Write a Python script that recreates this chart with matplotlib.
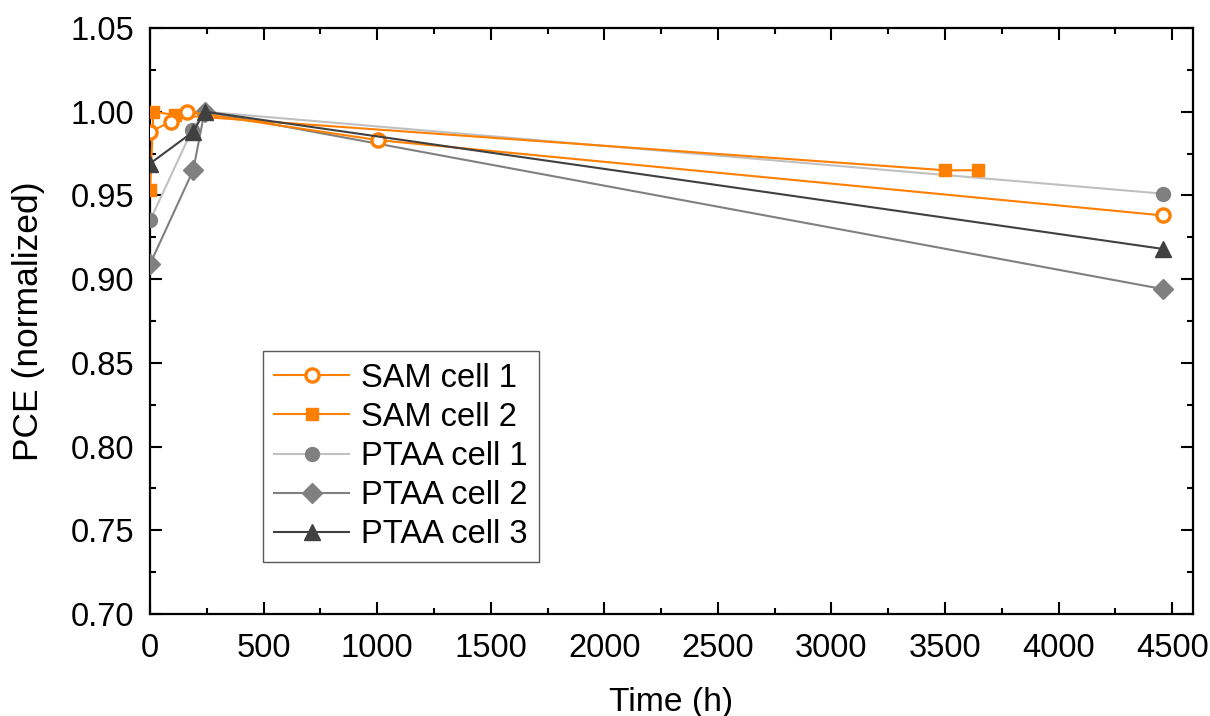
import matplotlib
matplotlib.use("Agg")
import matplotlib.pyplot as plt
from matplotlib.ticker import MultipleLocator, FormatStrFormatter

plt.rcParams['font.family'] = ['Liberation Sans', 'DejaVu Sans']

sam1_t = [0, 93, 163, 1004, 4460]
sam1_v = [0.988, 0.994, 1.000, 0.983, 0.938]
sam2_t = [0, 15, 110, 3500, 3647]
sam2_v = [0.953, 1.000, 0.998, 0.965, 0.965]
ptaa1_t = [0, 185, 240, 4460]
ptaa1_v = [0.935, 0.989, 1.000, 0.951]
ptaa2_t = [0, 190, 240, 4460]
ptaa2_v = [0.909, 0.965, 1.000, 0.894]
ptaa3_t = [0, 190, 240, 4460]
ptaa3_v = [0.969, 0.988, 1.000, 0.918]

orange = '#FF7F00'
FS = 23.5

fig = plt.figure(figsize=(12.1, 7.16), dpi=100)
ax = fig.add_axes([0.124, 0.1425, 0.862, 0.8185])

ax.plot(sam1_t, sam1_v, color=orange, lw=1.5, marker='o', ms=9.5, mfc='white',
        mec=orange, mew=2.4, label='SAM cell 1', zorder=5)
ax.plot(sam2_t, sam2_v, color=orange, lw=1.5, marker='s', ms=8, mfc=orange,
        mec=orange, label='SAM cell 2', zorder=4)
ax.plot(ptaa1_t, ptaa1_v, color='#C0C0C0', lw=1.5, marker='o', ms=10, mfc='#808080',
        mec='#808080', label='PTAA cell 1', zorder=3)
ax.plot(ptaa2_t, ptaa2_v, color='#808080', lw=1.5, marker='D', ms=10, mfc='#808080',
        mec='#808080', label='PTAA cell 2', zorder=3)
ax.plot(ptaa3_t, ptaa3_v, color='#404040', lw=1.5, marker='^', ms=12, mfc='#404040',
        mec='#404040', label='PTAA cell 3', zorder=6)

ax.set_xlim(0, 4592)
ax.set_ylim(0.70, 1.05)
ax.xaxis.set_major_locator(MultipleLocator(500))
ax.xaxis.set_minor_locator(MultipleLocator(250))
ax.yaxis.set_major_locator(MultipleLocator(0.05))
ax.yaxis.set_minor_locator(MultipleLocator(0.025))
ax.yaxis.set_major_formatter(FormatStrFormatter('%.2f'))

ax.tick_params(which='both', direction='in', top=True, right=True, width=1.5,
               labelsize=FS)
ax.tick_params(which='major', length=8.5)
ax.tick_params(which='minor', length=4)
ax.tick_params(axis='x', which='major', pad=13.5)
ax.tick_params(axis='y', which='major', pad=11.5)
for s in ax.spines.values():
    s.set_linewidth(1.6)

ax.set_xlabel('Time (h)', fontsize=24.2, labelpad=17)
ax.set_ylabel('PCE (normalized)', fontsize=25.5, labelpad=18)

leg = ax.legend(loc='lower left', bbox_to_anchor=(0.108, 0.089), fontsize=FS,
                frameon=True, fancybox=False, edgecolor='#303030',
                handlelength=2.3, handletextpad=0.35, borderpad=0.35,
                labelspacing=0.25, borderaxespad=0)
leg.get_frame().set_linewidth(1.0)

fig.savefig('out.png', dpi=100)
